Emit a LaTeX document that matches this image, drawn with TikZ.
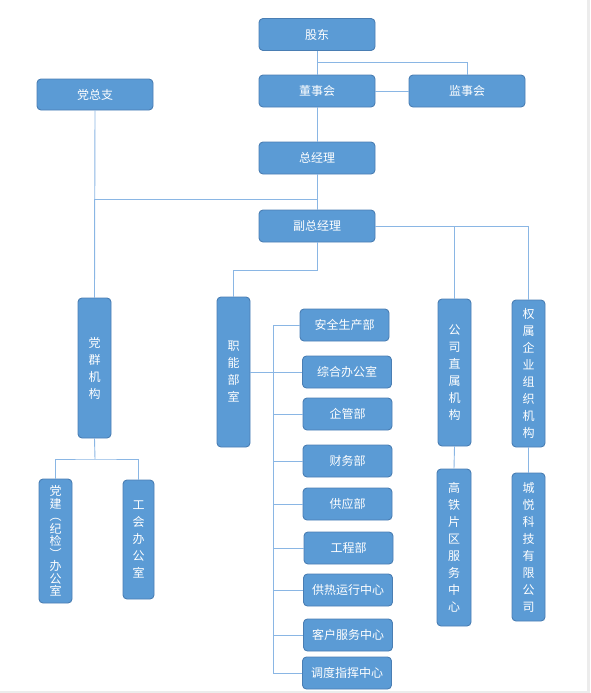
\documentclass[tikz,border=0pt]{standalone}
\usepackage{fontspec}
\setmainfont{Noto Sans CJK SC}
\usetikzlibrary{positioning}
\definecolor{boxfill}{HTML}{5B9BD5}
\definecolor{boxline}{HTML}{4A7EB3}
\definecolor{linkline}{HTML}{8AB6E4}
\tikzset{
  orgbox/.style={draw=boxline, line width=0.9pt, fill=boxfill, rounded corners=4pt,
    text=white, font=\fontsize{12}{13}\selectfont, inner sep=0pt},
  hbox/.style={orgbox, minimum width=116pt, minimum height=32pt},
  deptbox/.style={orgbox, minimum width=89pt, minimum height=32pt},
  vbox/.style={orgbox, minimum width=33pt, align=center,
    font=\fontsize{12}{17}\selectfont},
  link/.style={draw=linkline, line width=0.9pt}
}
\begin{document}
\begin{tikzpicture}[x=1pt, y=-1pt]
  \useasboundingbox (0,0) rectangle (590,693);
  \fill[gray!15] (587,0) rectangle (590,693);
  \fill[gray!15] (0,691) rectangle (590,693);
  % Coordinates
  \coordinate (gdj) at (317, 62);
  \coordinate (dzzj) at (317, 199);
  \coordinate (znj) at (317, 270);
  \coordinate (dqj) at (95, 459);
  \coordinate (busx) at (273, 0);

  % Top level
  \node[hbox] (gd) at (317, 34.5) {股东};
  \node[hbox] (dsh) at (317, 91) {董事会};
  \node[hbox] (jsh) at (467, 91) {监事会};
  \node[hbox, minimum height=31pt] (dzz) at (95, 94.5) {党总支};
  \node[hbox] (zjl) at (317, 158) {总经理};
  \node[hbox] (fzjl) at (317, 226) {副总经理};

  % Second level
  \node[vbox, minimum height=140pt] (dqjg) at (94.5, 368) {党\\群\\机\\构};
  \node[vbox, minimum height=150pt] (znbs) at (233.5, 372) {职\\能\\部\\室};
  \node[vbox, minimum height=147pt] (gszs) at (454.5, 372.5) {公\\司\\直\\属\\机\\构};
  \node[vbox, minimum height=147pt] (qsqy) at (528.5, 373.5) {权\\属\\企\\业\\组\\织\\机\\构};

  % Third level
  \node[vbox, minimum height=124pt, font=\fontsize{12}{12.5}\selectfont] (djb) at (55.5, 541)
    {党\\建\\︵\\纪\\检\\︶\\办\\公\\室};
  \node[vbox, minimum width=31pt, minimum height=119pt] (ghb) at (138.5, 539.5) {工\\会\\办\\公\\室};
  \node[vbox, minimum width=34pt, minimum height=157pt] (gtpq) at (454, 547.5) {高\\铁\\片\\区\\服\\务\\中\\心};
  \node[vbox, minimum height=148pt] (cykj) at (528.5, 547) {城\\悦\\科\\技\\有\\限\\公\\司};

  % Departments
  \node[deptbox] (aqsc) at (344.5, 325) {安全生产部};
  \node[deptbox] (zhbgs) at (347, 372) {综合办公室};
  \node[deptbox] (qgb) at (347.5, 414) {企管部};
  \node[deptbox] (cwb) at (347.5, 461) {财务部};
  \node[deptbox] (gyb) at (347.5, 504) {供应部};
  \node[deptbox] (gcb) at (348.5, 548) {工程部};
  \node[deptbox] (grzx) at (348, 590) {供热运行中心};
  \node[deptbox] (khzx) at (348, 635) {客户服务中心};
  \node[deptbox] (ddzx) at (347, 673) {调度指挥中心};

  % Connectors
  \draw[link] (gd.south) -- (dsh.north);
  \draw[link] (gdj) -| (jsh.north);
  \draw[link] (dsh.east) -- (jsh.west);
  \draw[link] (dsh.south) -- (zjl.north);
  \draw[link] (zjl.south) -- (fzjl.north);
  \draw[link] (dzzj) -| (dqjg.north);
  \draw[link] (dzz.south) -- (dqjg.north);
  \draw[link] (fzjl.east) -| (qsqy.north);
  \draw[link] (fzjl.east) -| (gszs.north);
  \draw[link] (fzjl.south) -- (znj) -| (znbs.north);
  \draw[link] (znbs.east) -- (zhbgs.west);
  \draw[link] (aqsc.west -| busx) -- (ddzx.west -| busx);
  \foreach \d in {aqsc, zhbgs, qgb, cwb, gyb, gcb, grzx, khzx, ddzx}
    \draw[link] (\d.west -| busx) -- (\d.west);
  \draw[link] (gszs.south) -- (gtpq.north);
  \draw[link] (qsqy.south) -- (cykj.north);
  \draw[link] (dqjg.south) -- (dqj);
  \draw[link] (djb.north) |- (dqj) -| (ghb.north);
\end{tikzpicture}
\end{document}
